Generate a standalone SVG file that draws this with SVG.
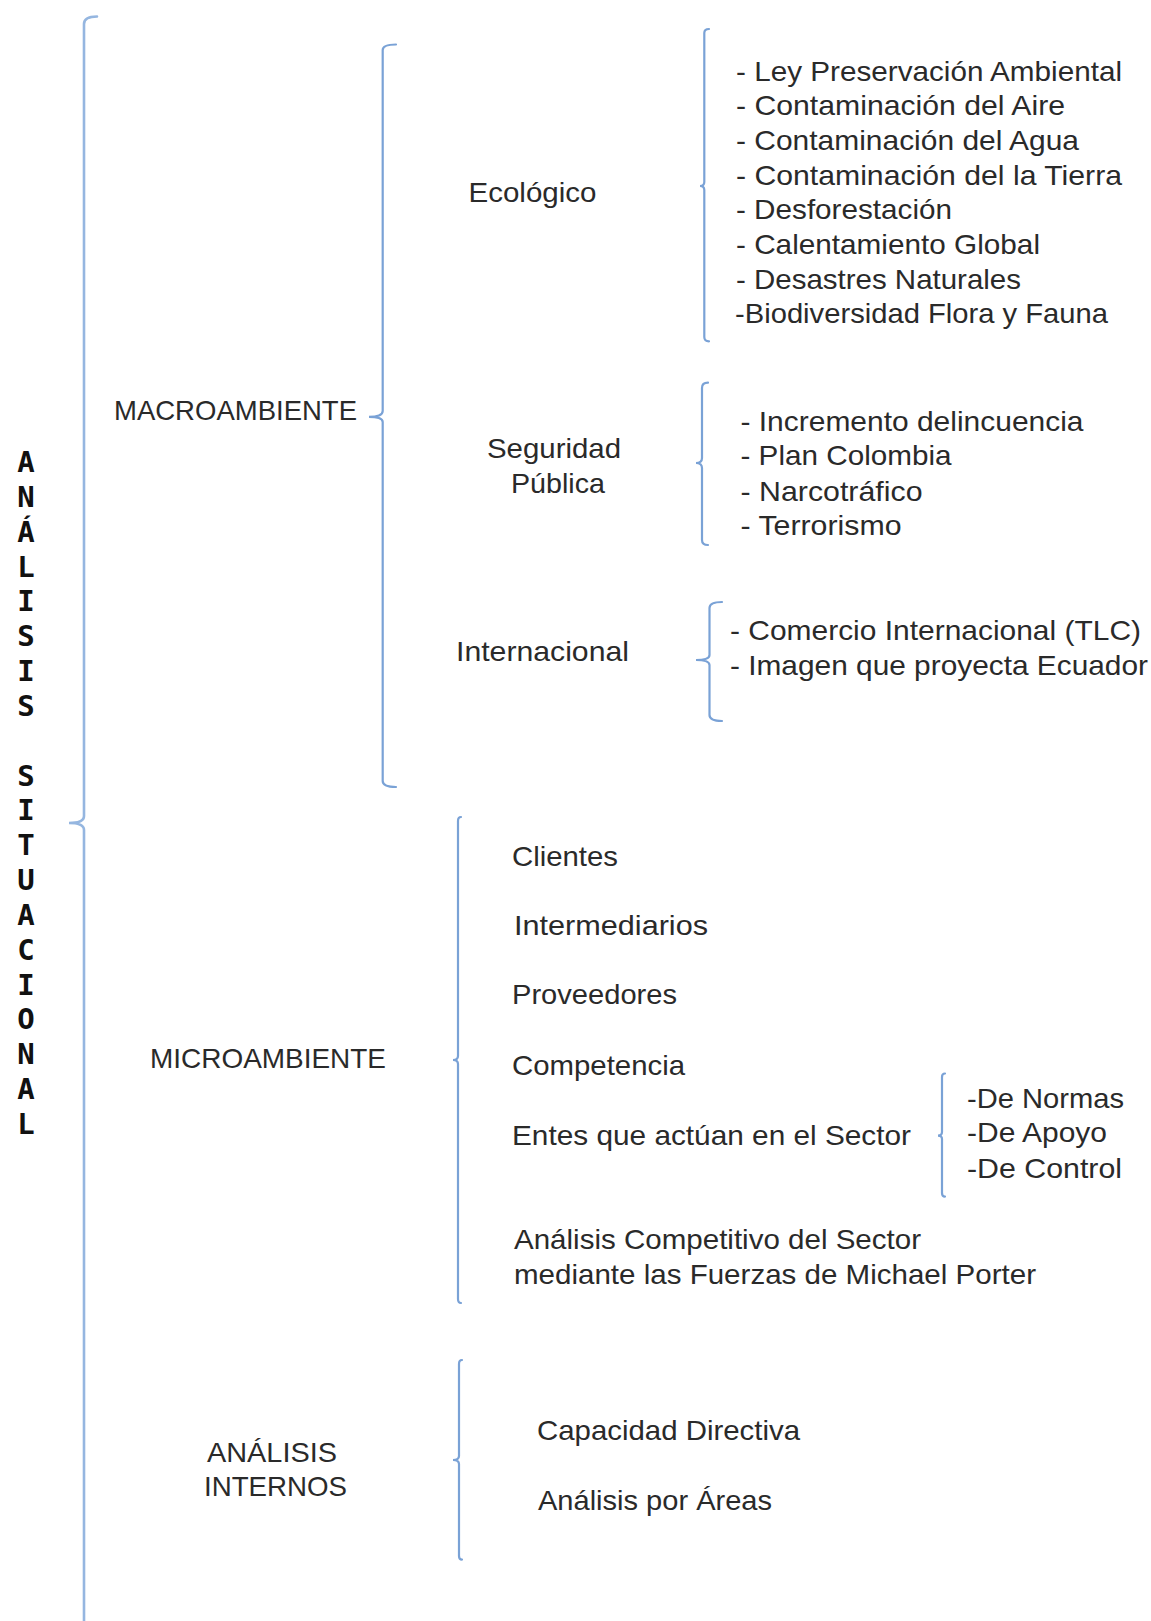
<svg xmlns="http://www.w3.org/2000/svg" width="1151" height="1621" viewBox="0 0 1151 1621">
<style>
.t{font-family:"Liberation Sans",Arial,sans-serif;font-size:28px;fill:#2a2a2a}
.v{font-family:"DejaVu Sans Mono","Liberation Mono",monospace;font-size:29px;font-weight:bold;fill:#111;text-anchor:middle}
.b{fill:none;stroke:#7aa2d6;stroke-width:2.2;stroke-linecap:round}
.bm{fill:none;stroke:#95b6e0;stroke-width:2.6;stroke-linecap:round}
</style>
<rect width="1151" height="1621" fill="#fff"/>
<g id="connectors">
<path class="bm" d="M97,16.5 Q84,16.5 84,24 L84,816 Q84,823 69,823 Q84,823 84,830 L84,1640"/>
<path class="b" d="M396,44.5 Q382.7,44.5 382.7,50 L382.7,411 Q382.7,416.8 369,416.8 Q382.7,416.8 382.7,422 L382.7,781 Q382.7,787 396,787"/>
<path class="b" d="M709,29 Q704.3,29 704.3,33 L704.3,182 Q704.3,186 700,186 Q704.3,186 704.3,190 L704.3,337 Q704.3,341.3 709,341.3"/>
<path class="b" d="M708,382.7 Q702,382.7 702,388 L702,458 Q702,463 696,463 Q702,463 702,468 L702,540 Q702,545 708,545"/>
<path class="b" d="M722,602 Q709.5,602 709.5,608 L709.5,655 Q709.5,660 696,660 Q709.5,660 709.5,665 L709.5,715 Q709.5,721 722,721"/>
<path class="b" d="M461,817 Q458,817 458,821 L458,1056 Q458,1060 453,1060 Q458,1060 458,1064 L458,1299 Q458,1303 461,1303"/>
<path class="b" d="M945,1073.5 Q942,1073.5 942,1077 L942,1132 Q942,1135.6 938,1135.6 Q942,1135.6 942,1139 L942,1193 Q942,1196.6 945,1196.6"/>
<path class="b" d="M462,1360 Q459,1360 459,1364 L459,1456 Q459,1460 453,1460 Q459,1460 459,1464 L459,1556 Q459,1559.6 462,1559.6"/>
</g>
<g id="analisis-situacional">
<text class="v"><tspan x="26" y="472">A</tspan><tspan x="26" y="506.8">N</tspan><tspan x="26" y="541.7">Á</tspan><tspan x="26" y="576.5">L</tspan><tspan x="26" y="611.4">I</tspan><tspan x="26" y="646.2">S</tspan><tspan x="26" y="681">I</tspan><tspan x="26" y="715.9">S</tspan><tspan x="26" y="785.6">S</tspan><tspan x="26" y="820.4">I</tspan><tspan x="26" y="855.2">T</tspan><tspan x="26" y="890.1">U</tspan><tspan x="26" y="924.9">A</tspan><tspan x="26" y="959.8">C</tspan><tspan x="26" y="994.6">I</tspan><tspan x="26" y="1029.4">O</tspan><tspan x="26" y="1064.3">N</tspan><tspan x="26" y="1099.1">A</tspan><tspan x="26" y="1134">L</tspan></text>
</g>
<g id="macroambiente"><text class="t" x="114" y="420" textLength="243" lengthAdjust="spacingAndGlyphs">MACROAMBIENTE</text></g>
<g id="ecologico"><text class="t" x="468.5" y="202" textLength="128" lengthAdjust="spacingAndGlyphs">Ecológico</text></g>
<g id="ecologico-items">
<text class="t" x="736" y="80.5" textLength="386" lengthAdjust="spacingAndGlyphs">- Ley Preservación Ambiental</text>
<text class="t" x="736" y="115.2" textLength="329" lengthAdjust="spacingAndGlyphs">- Contaminación del Aire</text>
<text class="t" x="736" y="149.9" textLength="343" lengthAdjust="spacingAndGlyphs">- Contaminación del Agua</text>
<text class="t" x="736" y="184.6" textLength="386" lengthAdjust="spacingAndGlyphs">- Contaminación del la Tierra</text>
<text class="t" x="736" y="219.3" textLength="216" lengthAdjust="spacingAndGlyphs">- Desforestación</text>
<text class="t" x="736" y="254" textLength="304" lengthAdjust="spacingAndGlyphs">- Calentamiento Global</text>
<text class="t" x="736" y="288.7" textLength="285" lengthAdjust="spacingAndGlyphs">- Desastres Naturales</text>
<text class="t" x="735" y="323.4" textLength="373" lengthAdjust="spacingAndGlyphs">-Biodiversidad Flora y Fauna</text>
</g>
<g id="seguridad-publica">
<text class="t" x="487" y="458" textLength="134" lengthAdjust="spacingAndGlyphs">Seguridad</text>
<text class="t" x="511" y="493" textLength="94" lengthAdjust="spacingAndGlyphs">Pública</text>
</g>
<g id="seguridad-items">
<text class="t" x="740.5" y="431" textLength="343" lengthAdjust="spacingAndGlyphs">- Incremento delincuencia</text>
<text class="t" x="740.5" y="465" textLength="211" lengthAdjust="spacingAndGlyphs">- Plan Colombia</text>
<text class="t" x="740.5" y="501" textLength="182" lengthAdjust="spacingAndGlyphs">- Narcotráfico</text>
<text class="t" x="740.5" y="535" textLength="161" lengthAdjust="spacingAndGlyphs">- Terrorismo</text>
</g>
<g id="internacional"><text class="t" x="456" y="661" textLength="173" lengthAdjust="spacingAndGlyphs">Internacional</text></g>
<g id="internacional-items">
<text class="t" x="730" y="640" textLength="411" lengthAdjust="spacingAndGlyphs">- Comercio Internacional (TLC)</text>
<text class="t" x="730" y="675" textLength="418" lengthAdjust="spacingAndGlyphs">- Imagen que proyecta Ecuador</text>
</g>
<g id="microambiente"><text class="t" x="150" y="1068" textLength="236" lengthAdjust="spacingAndGlyphs">MICROAMBIENTE</text></g>
<g id="microambiente-items">
<text class="t" x="512" y="866" textLength="106" lengthAdjust="spacingAndGlyphs">Clientes</text>
<text class="t" x="514" y="935" textLength="194" lengthAdjust="spacingAndGlyphs">Intermediarios</text>
<text class="t" x="512" y="1004" textLength="165" lengthAdjust="spacingAndGlyphs">Proveedores</text>
<text class="t" x="512" y="1075" textLength="173" lengthAdjust="spacingAndGlyphs">Competencia</text>
<text class="t" x="512" y="1145" textLength="399" lengthAdjust="spacingAndGlyphs">Entes que actúan en el Sector</text>
<text class="t" x="514" y="1249" textLength="407" lengthAdjust="spacingAndGlyphs">Análisis Competitivo del Sector</text>
<text class="t" x="514" y="1284" textLength="522" lengthAdjust="spacingAndGlyphs">mediante las Fuerzas de Michael Porter</text>
</g>
<g id="entes-items">
<text class="t" x="967" y="1108" textLength="157" lengthAdjust="spacingAndGlyphs">-De Normas</text>
<text class="t" x="967" y="1142" textLength="140" lengthAdjust="spacingAndGlyphs">-De Apoyo</text>
<text class="t" x="967" y="1178" textLength="155" lengthAdjust="spacingAndGlyphs">-De Control</text>
</g>
<g id="analisis-internos">
<text class="t" x="207" y="1462" textLength="130" lengthAdjust="spacingAndGlyphs">ANÁLISIS</text>
<text class="t" x="204" y="1496" textLength="143" lengthAdjust="spacingAndGlyphs">INTERNOS</text>
</g>
<g id="internos-items">
<text class="t" x="537" y="1440" textLength="263" lengthAdjust="spacingAndGlyphs">Capacidad Directiva</text>
<text class="t" x="538" y="1510" textLength="234" lengthAdjust="spacingAndGlyphs">Análisis por Áreas</text>
</g>
</svg>
